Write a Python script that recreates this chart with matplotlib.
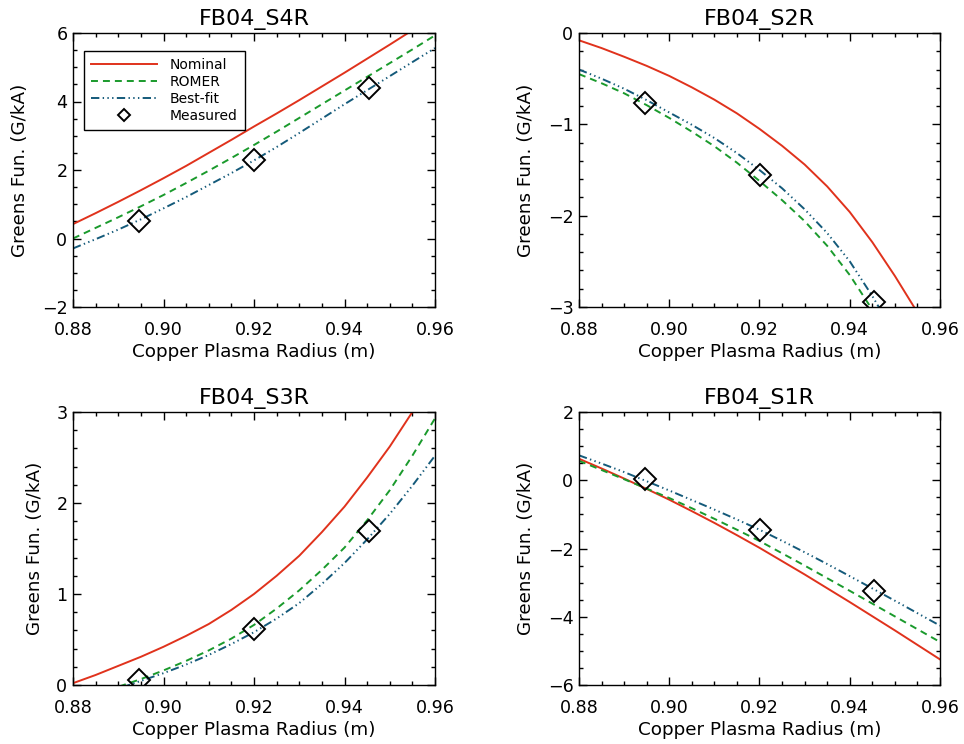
import matplotlib
matplotlib.use("Agg")
import matplotlib.pyplot as plt
from matplotlib.ticker import MultipleLocator, FormatStrFormatter

plt.rcParams['font.family'] = ['DejaVu Sans']
plt.rcParams['lines.scale_dashes'] = False

# ---------------- data ----------------
radius = [0.880, 0.885, 0.890, 0.895, 0.900, 0.905, 0.910, 0.915, 0.920,
          0.925, 0.930, 0.935, 0.940, 0.945, 0.950, 0.955, 0.960]
meas_radius = [0.8946, 0.9200, 0.9454]

titles = ["FB04_S4R", "FB04_S2R", "FB04_S3R", "FB04_S1R"]

s4r_nominal = [0.42, 0.74, 1.07, 1.41, 1.76, 2.12, 2.50, 2.88, 3.27,
               3.65, 4.04, 4.44, 4.84, 5.25, 5.66, 6.08, 6.50]
s4r_romer = [0.00, 0.31, 0.62, 0.94, 1.27, 1.62, 1.98, 2.35, 2.73,
             3.12, 3.52, 3.92, 4.32, 4.72, 5.12, 5.52, 5.93]
s4r_bestfit = [-0.29, -0.02, 0.26, 0.56, 0.88, 1.21, 1.56, 1.91, 2.28,
               2.67, 3.08, 3.50, 3.92, 4.33, 4.74, 5.15, 5.56]
s4r_measured = [0.52, 2.29, 4.38]

s2r_nominal = [-0.08, -0.165, -0.26, -0.36, -0.47, -0.595, -0.73, -0.88, -1.05,
               -1.235, -1.44, -1.68, -1.96, -2.29, -2.66, -3.06, -3.50]
s2r_romer = [-0.45, -0.55, -0.66, -0.79, -0.93, -1.08, -1.24, -1.42, -1.62,
             -1.83, -2.06, -2.33, -2.65, -3.03, -3.45, -3.90, -4.40]
s2r_bestfit = [-0.40, -0.50, -0.61, -0.735, -0.87, -1.005, -1.15, -1.315, -1.50,
               -1.70, -1.93, -2.19, -2.50, -2.88, -3.30, -3.74, -4.20]
s2r_measured = [-0.77, -1.55, -2.94]

s3r_nominal = [0.02, 0.11, 0.21, 0.31, 0.42, 0.54, 0.67, 0.825, 1.00,
               1.20, 1.42, 1.68, 1.96, 2.28, 2.62, 3.00, 3.40]
s3r_romer = [-0.15, -0.09, -0.02, 0.065, 0.16, 0.265, 0.38, 0.51, 0.66,
             0.84, 1.04, 1.265, 1.51, 1.81, 2.14, 2.52, 2.93]
s3r_bestfit = [-0.20, -0.12, -0.04, 0.045, 0.13, 0.225, 0.33, 0.45, 0.58,
               0.73, 0.90, 1.11, 1.34, 1.60, 1.88, 2.19, 2.52]
s3r_measured = [0.06, 0.61, 1.69]

s1r_nominal = [0.63, 0.345, 0.05, -0.255, -0.57, -0.905, -1.25, -1.61, -1.98,
               -2.37, -2.76, -3.165, -3.57, -3.985, -4.40, -4.825, -5.25]
s1r_romer = [0.57, 0.30, 0.03, -0.245, -0.52, -0.82, -1.13, -1.45, -1.78,
             -2.14, -2.50, -2.87, -3.24, -3.615, -3.99, -4.365, -4.74]
s1r_bestfit = [0.73, 0.49, 0.24, -0.03, -0.30, -0.58, -0.86, -1.15, -1.45,
               -1.775, -2.11, -2.455, -2.81, -3.17, -3.53, -3.895, -4.26]
s1r_measured = [0.04, -1.47, -3.24]

ylims = [(-2, 6), (-3, 0), (0, 3), (-6, 2)]
ymajor = [2, 1, 1, 2]
yminor = [0.5, 0.2, 0.2, 0.5]

panels = [
    (s4r_nominal, s4r_romer, s4r_bestfit, s4r_measured),
    (s2r_nominal, s2r_romer, s2r_bestfit, s2r_measured),
    (s3r_nominal, s3r_romer, s3r_bestfit, s3r_measured),
    (s1r_nominal, s1r_romer, s1r_bestfit, s1r_measured),
]

# ---------------- layout ----------------
W, H = 964, 744
boxes_px = [(73, 33, 435, 307), (579, 33, 940, 307),
            (73, 412, 435, 685), (579, 412, 940, 685)]

fig = plt.figure(figsize=(W / 100, H / 100), dpi=100)

red = '#e0321c'
green = '#1a9a2c'
blue = '#145a7a'

for i, (box, data) in enumerate(zip(boxes_px, panels)):
    l, t, r, b = box
    ax = fig.add_axes([l / W, 1 - b / H, (r - l) / W, (b - t) / H])
    nom, rom, bfit, meas = data
    ax.plot(radius, nom, color=red, lw=1.4, label='Nominal')
    ax.plot(radius, rom, color=green, lw=1.4, dashes=(5.0, 3.6), label='ROMER')
    ax.plot(radius, bfit, color=blue, lw=1.4,
            dashes=(6.0, 2.4, 1.0, 2.4, 1.0, 2.4, 1.0, 2.4), label='Best-fit')
    ax.plot(meas_radius, meas, ls='none', marker='D', markersize=11,
            mfc='none', mec='black', mew=1.4, label='Measured')
    ax.set_xlim(0.88, 0.96)
    ax.set_ylim(*ylims[i])
    ax.xaxis.set_major_locator(MultipleLocator(0.02))
    ax.xaxis.set_minor_locator(MultipleLocator(0.005))
    ax.yaxis.set_major_locator(MultipleLocator(ymajor[i]))
    ax.yaxis.set_minor_locator(MultipleLocator(yminor[i]))
    ax.xaxis.set_major_formatter(FormatStrFormatter('%.2f'))
    ax.tick_params(which='both', direction='in', top=True, right=True,
                   width=1.0, colors='black')
    ax.tick_params(which='major', length=6)
    ax.tick_params(which='minor', length=3)
    ax.tick_params(axis='x', which='major', labelsize=12.6, pad=10)
    ax.tick_params(axis='y', which='major', labelsize=12.6, pad=4)
    for sp in ax.spines.values():
        sp.set_linewidth(1.0)
    ax.set_title(titles[i], fontsize=16, pad=6)
    ax.set_xlabel('Copper Plasma Radius (m)', fontsize=13.2, labelpad=3)
    ax.set_ylabel('Greens Fun. (G/kA)', fontsize=13.2, labelpad=9)
    if i == 0:
        leg = ax.legend(loc='upper left', bbox_to_anchor=(0.03, 0.934),
                        borderaxespad=0, fontsize=10, handlelength=4.8,
                        handletextpad=0.9, labelspacing=0.22, borderpad=0.5,
                        fancybox=False, framealpha=1, edgecolor='black',
                        markerscale=0.55, numpoints=1)
        leg.get_frame().set_linewidth(1.0)

fig.savefig('out.png', dpi=100)
